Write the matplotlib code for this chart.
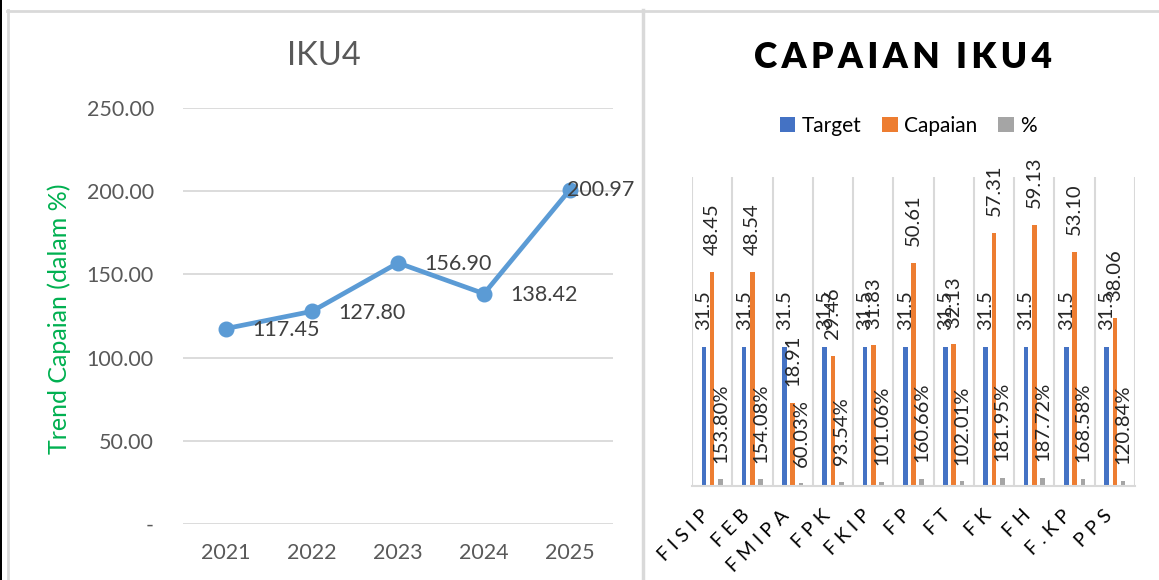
import numpy as np
import matplotlib
matplotlib.use('Agg')
import matplotlib.pyplot as plt
from matplotlib.lines import Line2D
from matplotlib.patches import Rectangle

plt.rcParams['font.family'] = ['Lato', 'DejaVu Sans']

# data - left chart
years = ['2021', '2022', '2023', '2024', '2025']
trend = [117.45, 127.80, 156.90, 138.42, 200.97]

# data - right chart
fakultas = ['FISIP', 'FEB', 'FMIPA', 'FPK', 'FKIP', 'FP', 'FT', 'FK', 'FH', 'F.KP', 'PPS']
target = [31.5, 31.5, 31.5, 31.5, 31.5, 31.5, 31.5, 31.5, 31.5, 31.5, 31.5]
capaian = [48.45, 48.54, 18.91, 29.46, 31.83, 50.61, 32.13, 57.31, 59.13, 53.10, 38.06]
persen = [153.80, 154.08, 60.03, 93.54, 101.06, 160.66, 102.01, 181.95, 187.72, 168.58, 120.84]

W, H = 1159, 580
fig = plt.figure(figsize=(W / 100, H / 100), dpi=100)

def fx(px):
    return px / W

def fy(py):
    return 1 - py / H

# panel frames
fig.add_artist(Rectangle((0, 0), fx(2), 1, transform=fig.transFigure, color='black', lw=0))
fig.add_artist(Line2D([fx(8), fx(8)], [0, fy(10)], transform=fig.transFigure, color='#d9d9d9', lw=2))
fig.add_artist(Line2D([fx(7), 1], [fy(10.5), fy(10.5)], transform=fig.transFigure, color='#d9d9d9', lw=2))
fig.add_artist(Line2D([fx(643), fx(643)], [0, fy(10)], transform=fig.transFigure, color='#d9d9d9', lw=2.5))

# ---------------- left: line chart ----------------
ax1 = fig.add_axes([fx(183), fy(524), fx(613) - fx(183), fy(108) - fy(524)])
x = np.arange(len(years))
ax1.plot(x, trend, color='#5b9bd5', lw=3.4, marker='o', ms=10.5, zorder=3)
ax1.set_xlim(-0.5, len(years) - 0.5)
ax1.set_ylim(0, 250)
ax1.set_yticks(np.arange(0, 251, 50))
ax1.set_yticklabels(['-' if v == 0 else f'{v:.2f}' for v in np.arange(0, 251, 50)])
ax1.set_xticks(x)
ax1.set_xticklabels(years)
ax1.grid(axis='y', color='#d9d9d9', lw=1.3)
ax1.set_axisbelow(True)
for s in ax1.spines.values():
    s.set_visible(False)
ax1.tick_params(axis='both', length=0, labelsize=15.5, labelcolor='#595959')
ax1.tick_params(axis='y', pad=21)
ax1.tick_params(axis='x', pad=14)

for i, v in enumerate(trend):
    if i == len(trend) - 1:
        ax1.annotate(f'{v:.2f}', (x[i], v), xytext=(-2, 0), textcoords='offset points',
                     ha='left', va='center', fontsize=15.5, color='#404040')
    else:
        ax1.annotate(f'{v:.2f}', (x[i], v), xytext=(19, -1), textcoords='offset points',
                     ha='left', va='center', fontsize=15.5, color='#404040')

fig.text(fx(324), fy(56), 'IKU4', ha='center', va='center', fontsize=23.5, color='#595959')
fig.text(fx(59), fy(319), 'Trend Capaian (dalam %)', rotation=90, ha='center', va='center',
         fontsize=18, color='#00b050')

# ---------------- right: bar chart ----------------
ax2 = fig.add_axes([fx(692), fy(486), fx(1135) - fx(692), fy(177) - fy(486)])
xc = np.arange(len(fakultas))
bw = 0.115
step = 0.205
b1 = ax2.bar(xc - step, target, bw, color='#4472c4', label='Target')
b2 = ax2.bar(xc, capaian, bw, color='#ed7d31', label='Capaian')
b3 = ax2.bar(xc + step, [p / 100 for p in persen], bw, color='#a5a5a5', label='%')
ax2.set_xlim(-0.5, len(fakultas) - 0.5)
ax2.set_ylim(0, 70)
ax2.set_yticks([])
for b in np.arange(-0.5, len(fakultas), 1):
    ax2.axvline(b, color='#d9d9d9', lw=1.5, zorder=0)
for k, s in ax2.spines.items():
    s.set_visible(k == 'bottom')
ax2.spines['bottom'].set_color('#d9d9d9')
ax2.spines['bottom'].set_linewidth(1.5)
ax2.set_xticks(xc)
ax2.set_xticklabels([' '.join(list(f)) for f in fakultas], rotation=45, ha='right',
                    va='top', fontsize=14, color='#000000')
ax2.tick_params(axis='x', length=0, pad=15)

lab_kw = dict(textcoords='offset points', xytext=(0, 12), rotation=90, ha='center',
              va='bottom', fontsize=14.5, color='#262626')
for i in range(len(fakultas)):
    ax2.annotate(f'{target[i]:g}', (xc[i] - step, target[i]), **lab_kw)
    ax2.annotate(f'{capaian[i]:.2f}', (xc[i], capaian[i]), **lab_kw)
    ax2.annotate(f'{persen[i]:.2f}%', (xc[i] + step, persen[i] / 100), **lab_kw)

fig.text(fx(903), fy(58), '\u2009'.join(list('CAPAIAN')) + '  ' + '\u2009'.join(list('IKU4')),
         ha='center', va='center', fontsize=25.5, fontweight='heavy', color='#000000')
fig.legend(handles=[b1, b2, b3], loc='center', bbox_to_anchor=(fx(908), fy(126)), ncol=3,
           frameon=False, fontsize=15, handlelength=0.75, handleheight=0.75,
           handletextpad=0.3, columnspacing=1.0)

fig.savefig('out.png', dpi=100)
